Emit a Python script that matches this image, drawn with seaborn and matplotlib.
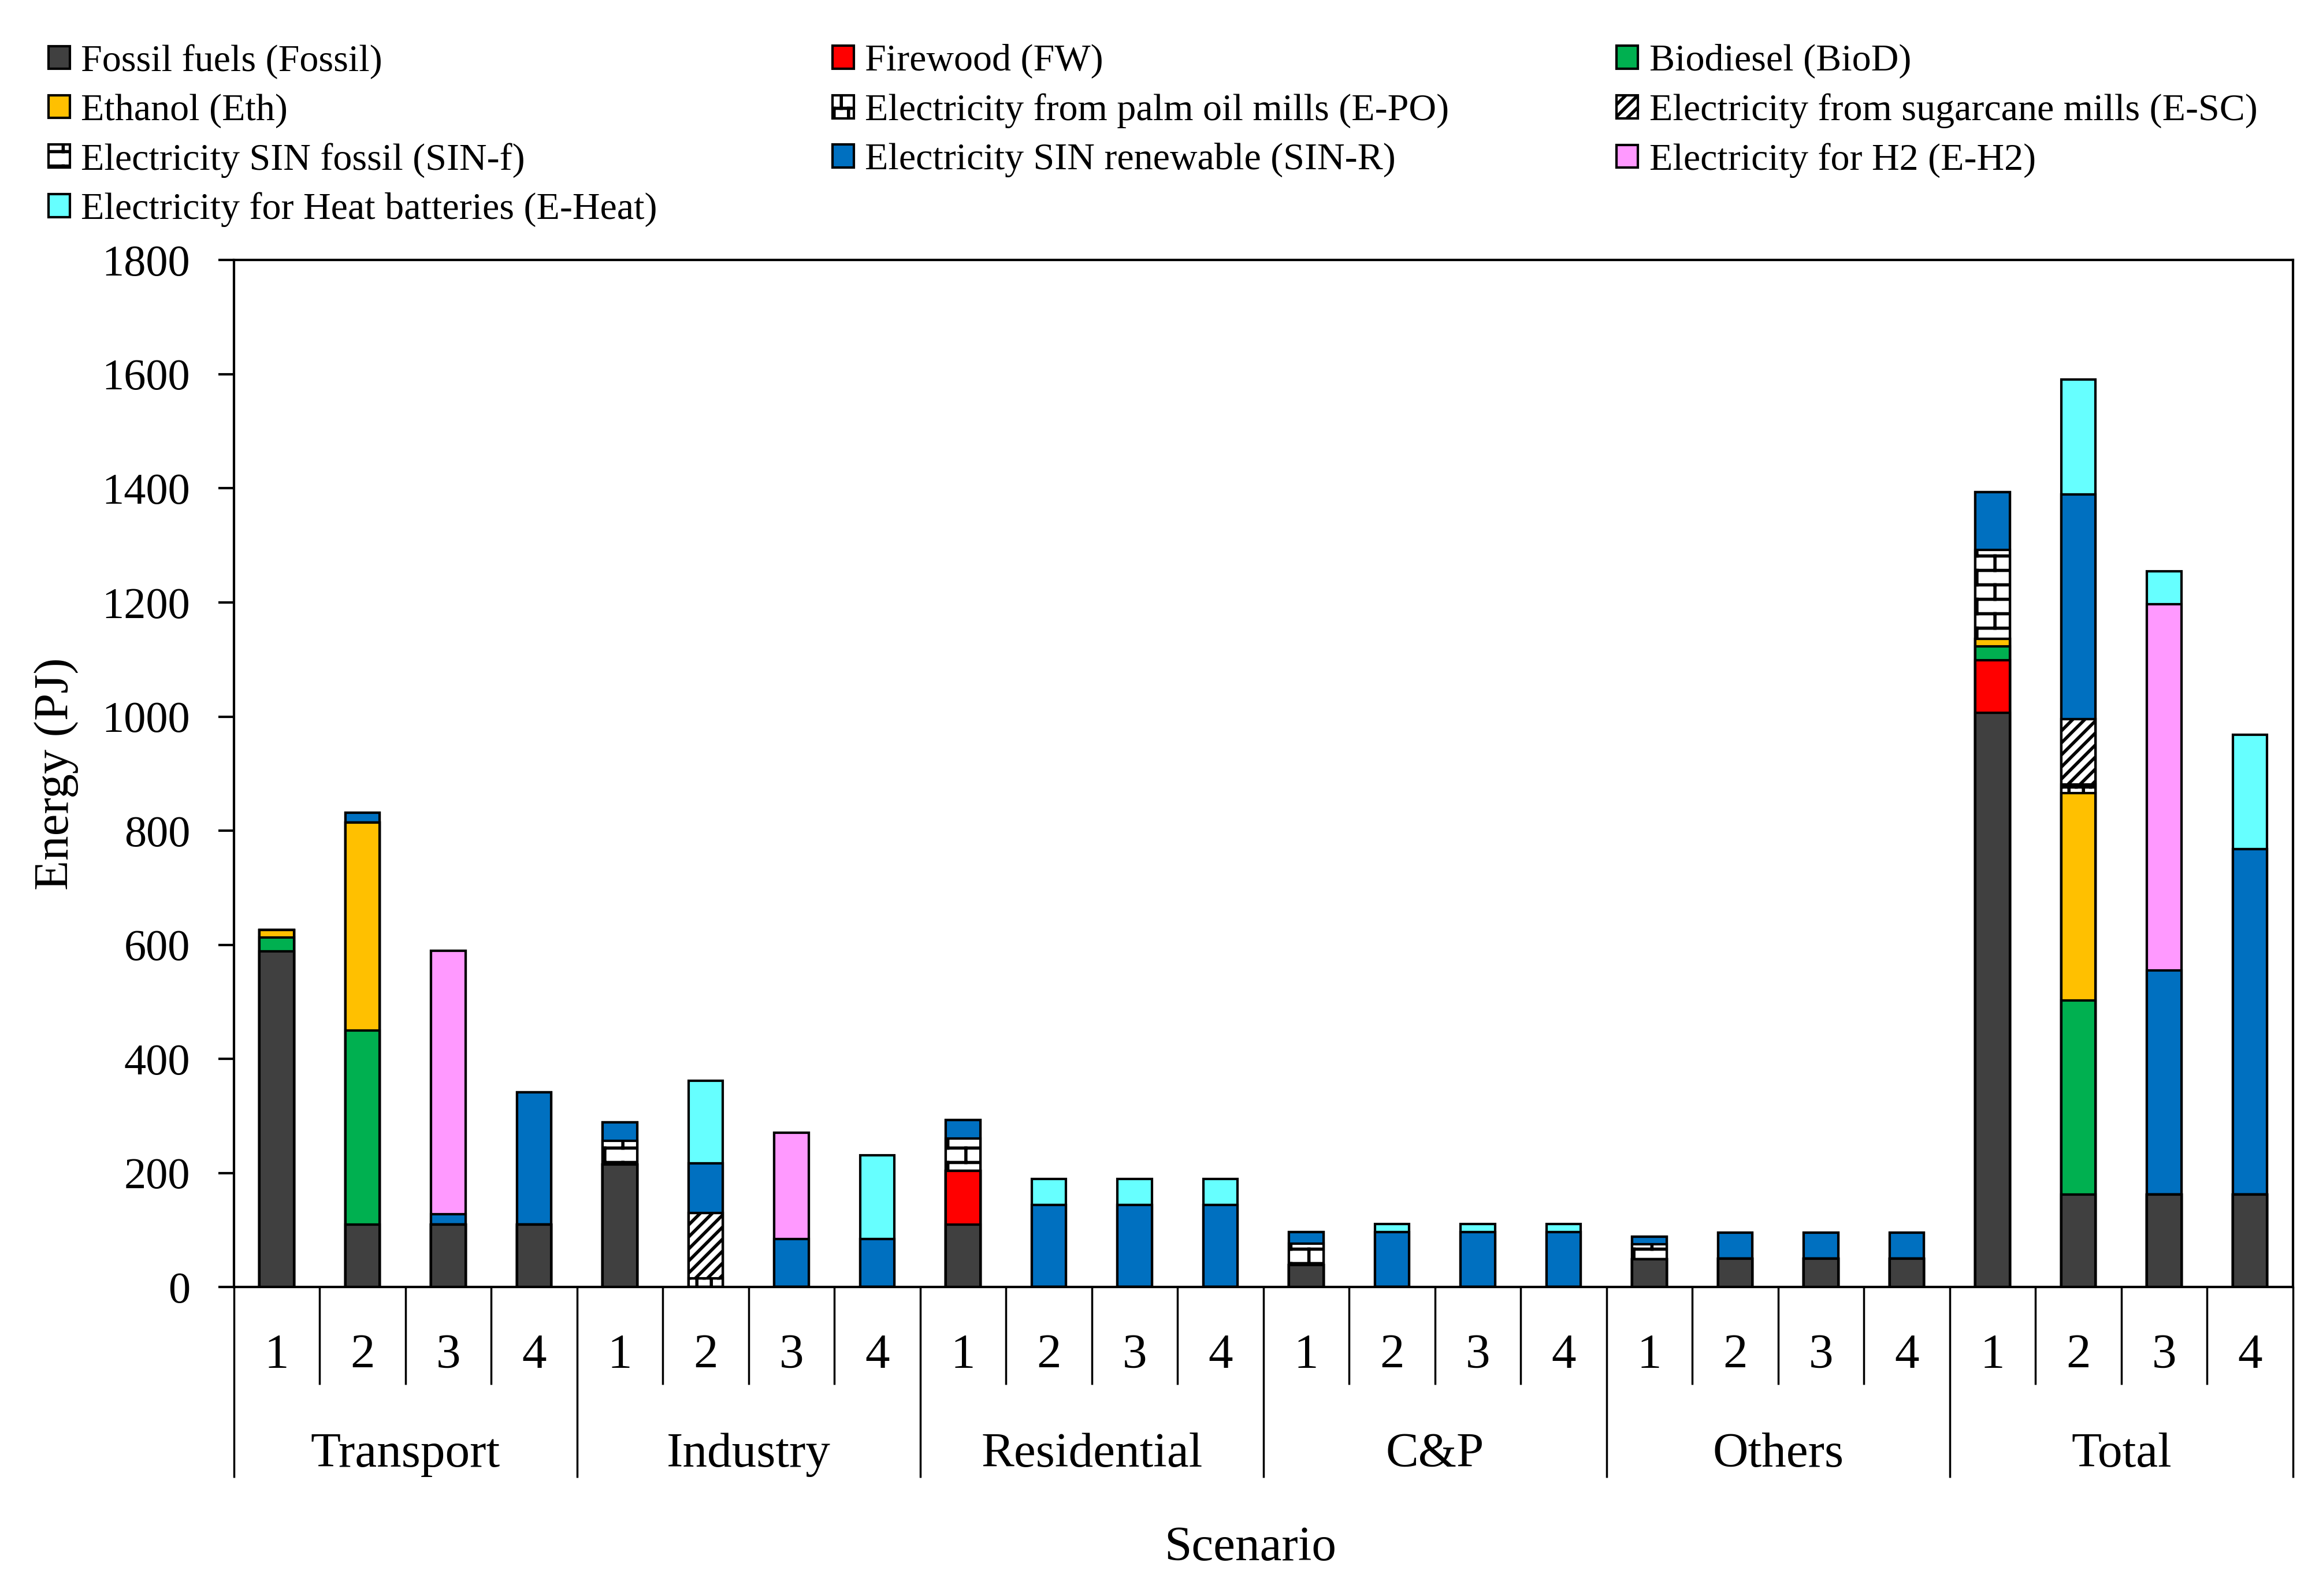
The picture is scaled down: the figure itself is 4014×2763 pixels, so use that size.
import numpy as np
import pandas as pd
import matplotlib
matplotlib.use("Agg")
import matplotlib.pyplot as plt
import matplotlib.hatch as mhatch
import matplotlib.transforms as mtransforms
from matplotlib.patches import Patch
from matplotlib.path import Path
import seaborn as sns

# ---------------- data ----------------
sectors = ["Transport", "Industry", "Residential", "C&P", "Others", "Total"]
scenarios = ["1", "2", "3", "4"]

series_names = [
    "Fossil fuels (Fossil)", "Firewood (FW)", "Biodiesel (BioD)", "Ethanol (Eth)",
    "Electricity from palm oil mills (E-PO)", "Electricity from sugarcane mills (E-SC)",
    "Electricity SIN fossil (SIN-f)", "Electricity SIN renewable (SIN-R)",
    "Electricity for H2 (E-H2)", "Electricity for Heat batteries (E-Heat)",
]

#          Transport           Industry          Residential       C&P              Others            Total
fossil = [589, 110, 110, 110,  215, 0, 0, 0,     110, 0, 0, 0,     39, 0, 0, 0,     49, 50, 50, 50,   1007, 162, 162, 162]
fw     = [0, 0, 0, 0,          0, 0, 0, 0,       94, 0, 0, 0,      0, 0, 0, 0,      0, 0, 0, 0,       92, 0, 0, 0]
biod   = [24, 340, 0, 0,       0, 0, 0, 0,       0, 0, 0, 0,       0, 0, 0, 0,      0, 0, 0, 0,       24, 340, 0, 0]
eth    = [13, 364, 0, 0,       0, 0, 0, 0,       0, 0, 0, 0,       0, 0, 0, 0,      0, 0, 0, 0,       13, 364, 0, 0]
epo    = [0, 0, 0, 0,          0, 16, 0, 0,      0, 0, 0, 0,       0, 0, 0, 0,      0, 0, 0, 0,       0, 15, 0, 0]
esc    = [0, 0, 0, 0,          0, 114, 0, 0,     0, 0, 0, 0,       0, 0, 0, 0,      0, 0, 0, 0,       0, 115, 0, 0]
sinf   = [0, 0, 0, 0,          41, 0, 0, 0,      57, 0, 0, 0,      37, 0, 0, 0,     26, 0, 0, 0,      156, 0, 0, 0]
sinr   = [0, 18, 18, 232,      33, 87, 84, 84,   32, 144, 144, 144, 21, 97, 97, 97, 13, 46, 46, 46,   101, 393, 393, 606]
eh2    = [0, 0, 462, 0,        0, 0, 187, 0,     0, 0, 0, 0,       0, 0, 0, 0,      0, 0, 0, 0,       0, 0, 642, 0]
eheat  = [0, 0, 0, 0,          0, 145, 0, 147,   0, 46, 46, 46,    0, 14, 14, 14,   0, 0, 0, 0,       0, 202, 58, 200]

series_values = [fossil, fw, biod, eth, epo, esc, sinf, sinr, eh2, eheat]

# ---------------- styles ----------------
colors = ["#404040", "#FF0000", "#00B050", "#FFC000", "#FFFFFF", "#FFFFFF",
          "#FFFFFF", "#0070C0", "#FF99FF", "#66FFFF"]
hatches = [None, None, None, None, "oo", "////", "o", None, None, None]


# custom brick hatch (replaces the small-circle hatch 'o')
class BrickHatch(mhatch.HatchPatternBase):
    def __init__(self, hatch, density):
        n = hatch.count('o')
        if n == 0:
            self.rows, self.cols = 0, 0
            self.num_vertices = 0
        else:
            self.rows = 10
            self.cols = 4 if n == 1 else 10
            self.num_vertices = 2 * self.rows + 2 * (self.rows + 1) * self.cols

    def set_vertices_and_codes(self, vertices, codes):
        R, B = self.rows, self.cols
        h = 1.0 / R
        k = 0
        for i in range(R):
            y = i * h + h / 2
            vertices[k] = (0.0, y)
            vertices[k + 1] = (1.0, y)
            codes[k] = Path.MOVETO
            codes[k + 1] = Path.LINETO
            k += 2
        for i in range(-1, R):
            y0 = i * h + h / 2
            off = (0.25 if i % 2 == 0 else 0.75) / B
            for j in range(B):
                x = j / B + off
                vertices[k] = (x, y0)
                vertices[k + 1] = (x, y0 + h)
                codes[k] = Path.MOVETO
                codes[k + 1] = Path.LINETO
                k += 2


mhatch._hatch_types = [mhatch.HorizontalHatch, mhatch.VerticalHatch,
                       mhatch.NorthEastHatch, mhatch.SouthEastHatch,
                       BrickHatch, mhatch.LargeCircles,
                       mhatch.SmallFilledCircles, mhatch.Stars]

sns.set_theme(style="ticks")
plt.rcParams.update({
    "font.family": ["Liberation Serif", "DejaVu Serif"],
    "text.color": "black",
    "axes.labelcolor": "black",
    "axes.edgecolor": "black",
    "ytick.color": "black",
    "xtick.color": "black",
    "hatch.linewidth": 1.6,
    "hatch.color": "black",
})

fig = plt.figure(figsize=(16.06, 11.052), dpi=250)
ax_left, ax_bottom, ax_w, ax_h = 0.1008, 0.1935, 0.8877, 0.6435
ax = fig.add_axes([ax_left, ax_bottom, ax_w, ax_h])

bar_ids = [f"{s}|{n}" for s in sectors for n in scenarios]
df = pd.DataFrame({"bar": bar_ids})
for name, vals in zip(series_names, series_values):
    df[name] = vals
cum = df[series_names].cumsum(axis=1)

for k in reversed(range(len(series_names))):
    n_before = len(ax.patches)
    sns.barplot(x=df["bar"], y=cum[series_names[k]], order=bar_ids,
                color=colors[k], width=0.4, saturation=1, edgecolor="black",
                linewidth=1.2, errorbar=None, ax=ax)
    if hatches[k]:
        for p in ax.patches[n_before:]:
            p.set_hatch(hatches[k])

ax.set_xlim(-0.5, len(bar_ids) - 0.5)
ax.set_ylim(0, 1800)
ax.set_yticks(np.arange(0, 1801, 200))
ax.set_xticks([])
ax.set_xlabel("")
ax.set_ylabel("")
ax.tick_params(axis="y", direction="out", length=7.7, width=1.2, pad=14, labelsize=22)
for s in ax.spines.values():
    s.set_linewidth(1.2)
    s.set_color("black")

# multi-level x axis
trans = mtransforms.blended_transform_factory(ax.transData, ax.transAxes)
for i in range(len(bar_ids) + 1):
    b = i - 0.5
    y_end = -0.1856 if i % 4 == 0 else -0.095
    ax.plot([b, b], [0, y_end], transform=trans, color="black", lw=1.0,
            clip_on=False, solid_capstyle="butt")
for i, bid in enumerate(bar_ids):
    ax.text(i, -0.067, bid.split("|")[1], transform=trans, ha="center",
            va="center", fontsize=24.5)
for g, sec in enumerate(sectors):
    ax.text(4 * g + 1.5, -0.163, sec, transform=trans, ha="center",
            va="center", fontsize=24.5)

fig.text(0.539, 0.030, "Scenario", ha="center", va="center", fontsize=24.5)
fig.text(0.0242, ax_bottom + ax_h / 2, "Energy (PJ)", ha="center", va="center",
         rotation=90, fontsize=24.5)

# legend: three columns, row-major order
handles = [Patch(facecolor=c, edgecolor="black", hatch=h, linewidth=1.2, label=n)
           for n, c, h in zip(series_names, colors, hatches)]
col_x = [0.0210, 0.359, 0.697]
for c in range(3):
    hs = handles[c::3]
    fig.legend(handles=hs, loc="upper left", bbox_to_anchor=(col_x[c], 0.9724),
               bbox_transform=fig.transFigure, frameon=False, borderpad=0,
               borderaxespad=0, handlelength=0.55, handleheight=0.55,
               handletextpad=0.3, labelspacing=0.383, fontsize=19)

fig.savefig("out.png", dpi=250)
